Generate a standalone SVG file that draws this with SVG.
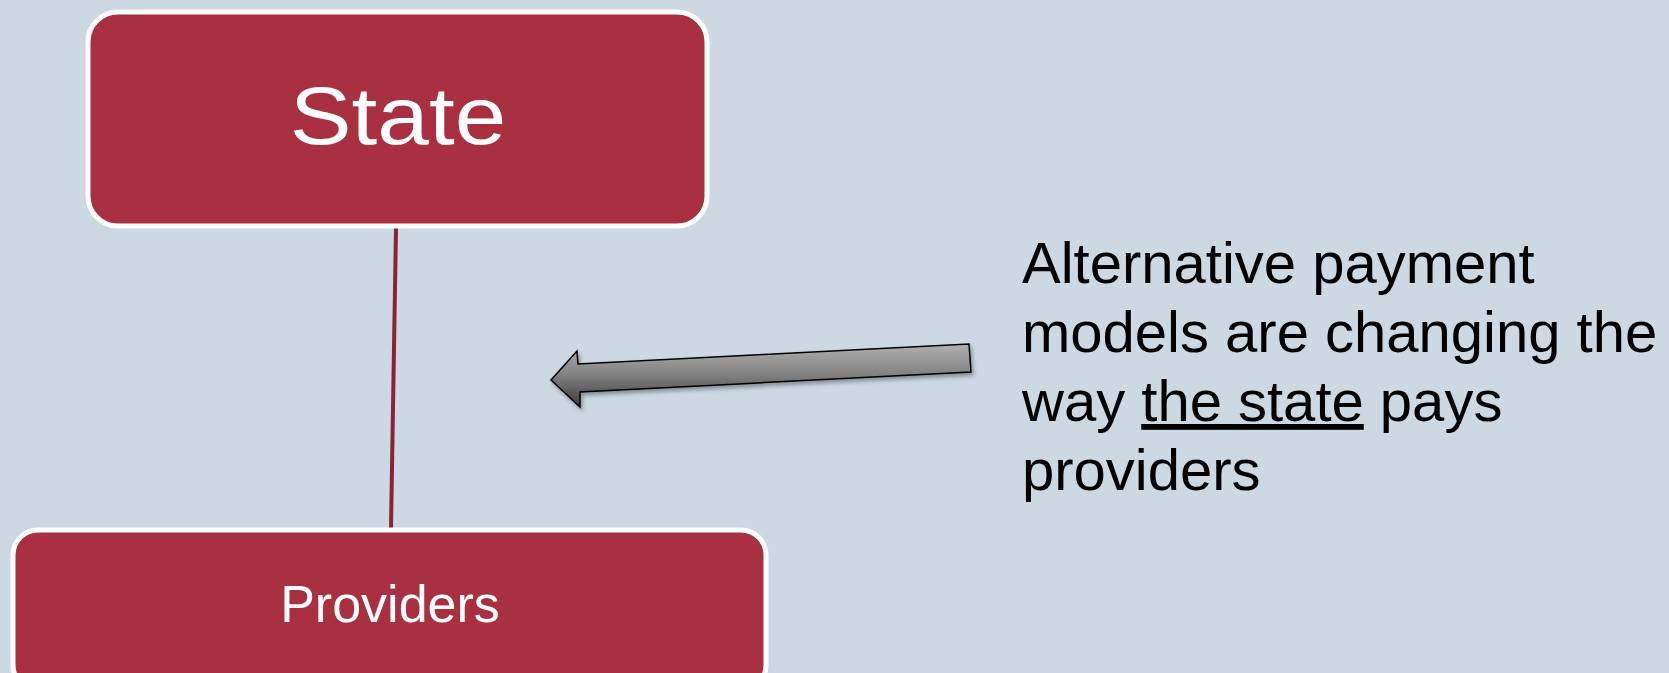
<svg xmlns="http://www.w3.org/2000/svg" width="1669" height="673" viewBox="0 0 1669 673">
<style>
.box{fill:#a93040;stroke:#ffffff;stroke-width:5}
.lbl{fill:#ffffff;font-family:"Liberation Sans",Arial,sans-serif;text-anchor:middle}
.note{fill:#000000;font-family:"Liberation Sans",Arial,sans-serif;font-size:58px}
</style>
<defs>
<linearGradient id="ag" x1="0" y1="0" x2="0" y2="1">
<stop offset="0" stop-color="#b0b0b0"/>
<stop offset="0.5" stop-color="#808080"/>
<stop offset="1" stop-color="#3a3a3a"/>
</linearGradient>
<filter id="sh" x="-10%" y="-50%" width="120%" height="200%">
<feGaussianBlur in="SourceAlpha" stdDeviation="2"/>
<feOffset dx="2" dy="3" result="b"/>
<feComponentTransfer><feFuncA type="linear" slope="0.35"/></feComponentTransfer>
<feMerge><feMergeNode/><feMergeNode in="SourceGraphic"/></feMerge>
</filter>
</defs>
<rect width="1669" height="673" fill="#ccd9e2"/>
<g id="connectors">
<line x1="396" y1="228" x2="391" y2="528" stroke="#8b2235" stroke-width="4"/>
<path d="M551,380 L577,351 L578,364 L969,344 L971,372 L580,392 L580,407 Z" fill="url(#ag)" stroke="#000" stroke-width="1.5" stroke-linejoin="miter" filter="url(#sh)"/>
</g>
<g id="state">
<rect class="box" x="88" y="12" width="619" height="214" rx="30"/>
<text class="lbl" transform="translate(398,144) scale(1.13,1)" font-size="82">State</text>
</g>
<g id="providers">
<rect class="box" x="13" y="530" width="753" height="160" rx="25"/>
<text class="lbl" x="390" y="622" font-size="52">Providers</text>
</g>
<g id="note">
<text class="note" x="1022" y="283">Alternative payment</text>
<text class="note" x="1022" y="352">models are changing the</text>
<text class="note" x="1022" y="421"><tspan>way </tspan><tspan text-decoration="underline">the state</tspan><tspan> pays</tspan></text>
<text class="note" x="1022" y="490">providers</text>
</g>
</svg>
